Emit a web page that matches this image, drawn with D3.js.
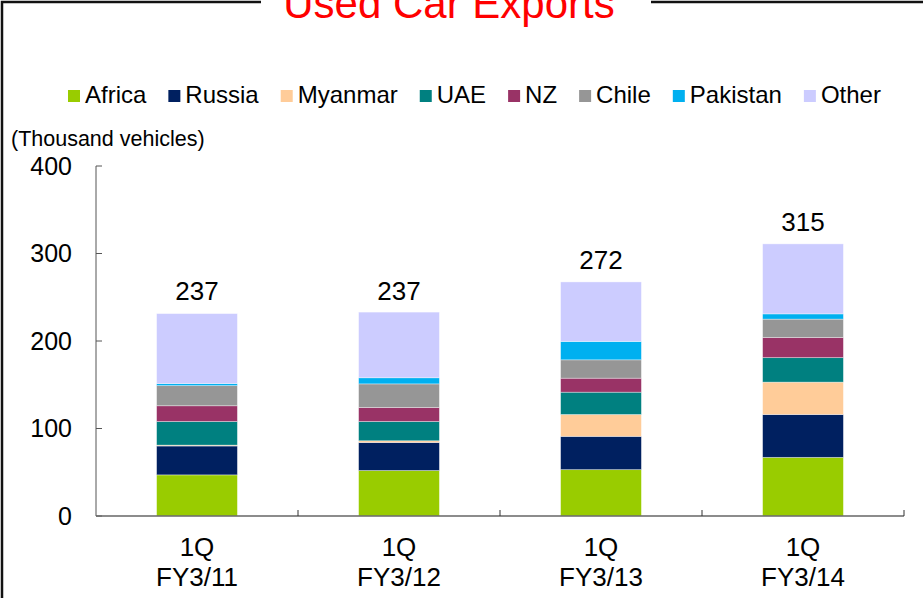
<!DOCTYPE html>
<html>
<head>
<meta charset="utf-8">
<script src="https://cdn.jsdelivr.net/npm/d3@7"></script>
<style>
  html, body { margin: 0; padding: 0; background: #fff; }
  svg { display: block; font-family: "Liberation Sans", Arial, sans-serif; }
</style>
</head>
<body>
<svg id="chart" width="923" height="598"></svg>
<script>
// 数据（单位：千辆）
const categories = ["1Q|FY3/11", "1Q|FY3/12", "1Q|FY3/13", "1Q|FY3/14"];
const seriesNames = ["Africa", "Russia", "Myanmar", "UAE", "NZ", "Chile", "Pakistan", "Other"];
const seriesColors = ["#99cc00", "#002060", "#ffcc99", "#008080", "#993366", "#969696", "#00b0f0", "#ccccff"];

const africa   = [47, 52, 53, 67];
const russia   = [33, 32, 38, 49];
const myanmar  = [1, 2, 25, 37];
const uae      = [27, 22, 25.5, 28];
const nz       = [18, 16, 16, 23];
const chile    = [23, 27, 21, 21];
const pakistan = [2.3, 7, 21, 6];
const other    = [80, 75, 68, 80];
const totals   = [237, 237, 272, 315];
const yTicks   = [0, 100, 200, 300, 400];

const svg = d3.select("#chart");
const width = 923, height = 598;

// 外框（标题处留空）
svg.append("path")
    .attr("d", "M261,2H2V" + (height + 5) + "M651,2H" + (width + 5))
    .attr("fill", "none")
    .attr("stroke", "#111")
    .attr("stroke-width", 2.5);

// 标题（上端被外框裁切，与原图一致）
svg.append("text")
    .attr("x", 449).attr("y", 18)
    .attr("text-anchor", "middle")
    .attr("fill", "#ff0000")
    .style("font-size", "42px")
    .text("Used Car Exports");

// 比例尺
const x = d3.scaleBand()
    .domain(categories)
    .range([96, 904])
    .paddingInner(0.6)
    .paddingOuter(0.3);

const y = d3.scaleLinear().domain([0, 400]).range([516, 166]);

// 堆叠数据
const rows = categories.map((c, i) => ({
    cat: c,
    Africa: africa[i], Russia: russia[i], Myanmar: myanmar[i], UAE: uae[i],
    NZ: nz[i], Chile: chile[i], Pakistan: pakistan[i], Other: other[i]
}));
const stacked = d3.stack().keys(seriesNames)(rows);
const color = d3.scaleOrdinal().domain(seriesNames).range(seriesColors);

// 柱子
svg.append("g").selectAll("g")
    .data(stacked)
    .join("g")
    .attr("fill", d => color(d.key))
    .selectAll("rect")
    .data(d => d)
    .join("rect")
    .attr("x", d => x(d.data.cat))
    .attr("width", x.bandwidth())
    .attr("y", d => y(d[1]))
    .attr("height", d => y(d[0]) - y(d[1]))
    .attr("stroke", "rgba(255,255,255,0.45)")
    .attr("stroke-width", 0.8);

// 合计标签
svg.append("g").selectAll("text")
    .data(categories)
    .join("text")
    .attr("x", d => x(d) + x.bandwidth() / 2)
    .attr("y", (d, i) => y(totals[i]) - 9)
    .attr("text-anchor", "middle")
    .style("font-size", "26px")
    .attr("fill", "#000")
    .text((d, i) => totals[i]);

// Y 轴
const yAxis = svg.append("g");
yAxis.append("line")
    .attr("x1", 96).attr("x2", 96)
    .attr("y1", y(400)).attr("y2", y(0))
    .attr("stroke", "#555").attr("stroke-width", 1);
yAxis.selectAll(".tick")
    .data(yTicks)
    .join("line")
    .attr("x1", 96).attr("x2", 102)
    .attr("y1", d => y(d)).attr("y2", d => y(d))
    .attr("stroke", "#555").attr("stroke-width", 1);
yAxis.selectAll("text")
    .data(yTicks)
    .join("text")
    .attr("x", 72)
    .attr("y", d => y(d))
    .attr("dy", "0.35em")
    .attr("text-anchor", "end")
    .style("font-size", "25px")
    .text(d => d);

svg.append("text")
    .attr("x", 11).attr("y", 146)
    .style("font-size", "21.5px")
    .text("(Thousand vehicles)");

// X 轴
const step = x.step();
const xAxis = svg.append("g");
xAxis.append("line")
    .attr("x1", 96).attr("x2", 904)
    .attr("y1", y(0)).attr("y2", y(0))
    .attr("stroke", "#666").attr("stroke-width", 1.5);
xAxis.selectAll(".tick")
    .data(categories)
    .join("line")
    .attr("x1", (d, i) => 96 + (i + 1) * step)
    .attr("x2", (d, i) => 96 + (i + 1) * step)
    .attr("y1", y(0)).attr("y2", y(0) - 6)
    .attr("stroke", "#333").attr("stroke-width", 1);
const catLabels = xAxis.selectAll("text")
    .data(categories)
    .join("text")
    .attr("text-anchor", "middle")
    .style("font-size", "26px");
catLabels.each(function(d) {
    const parts = d.split("|");
    const t = d3.select(this);
    const cx = x(d) + x.bandwidth() / 2;
    t.append("tspan").attr("x", cx).attr("y", 556).text(parts[0]);
    t.append("tspan").attr("x", cx).attr("y", 586).text(parts[1]);
});

// 图例
const legend = svg.append("g");
let lx = 68;
seriesNames.forEach((name, i) => {
    const item = legend.append("g");
    item.append("rect")
        .attr("x", lx).attr("y", 90)
        .attr("width", 12).attr("height", 12)
        .attr("fill", seriesColors[i]);
    const t = item.append("text")
        .attr("x", lx + 17).attr("y", 103)
        .style("font-size", "24px")
        .text(name);
    lx += 17 + t.node().getComputedTextLength() + 22;
});
</script>
</body>
</html>
